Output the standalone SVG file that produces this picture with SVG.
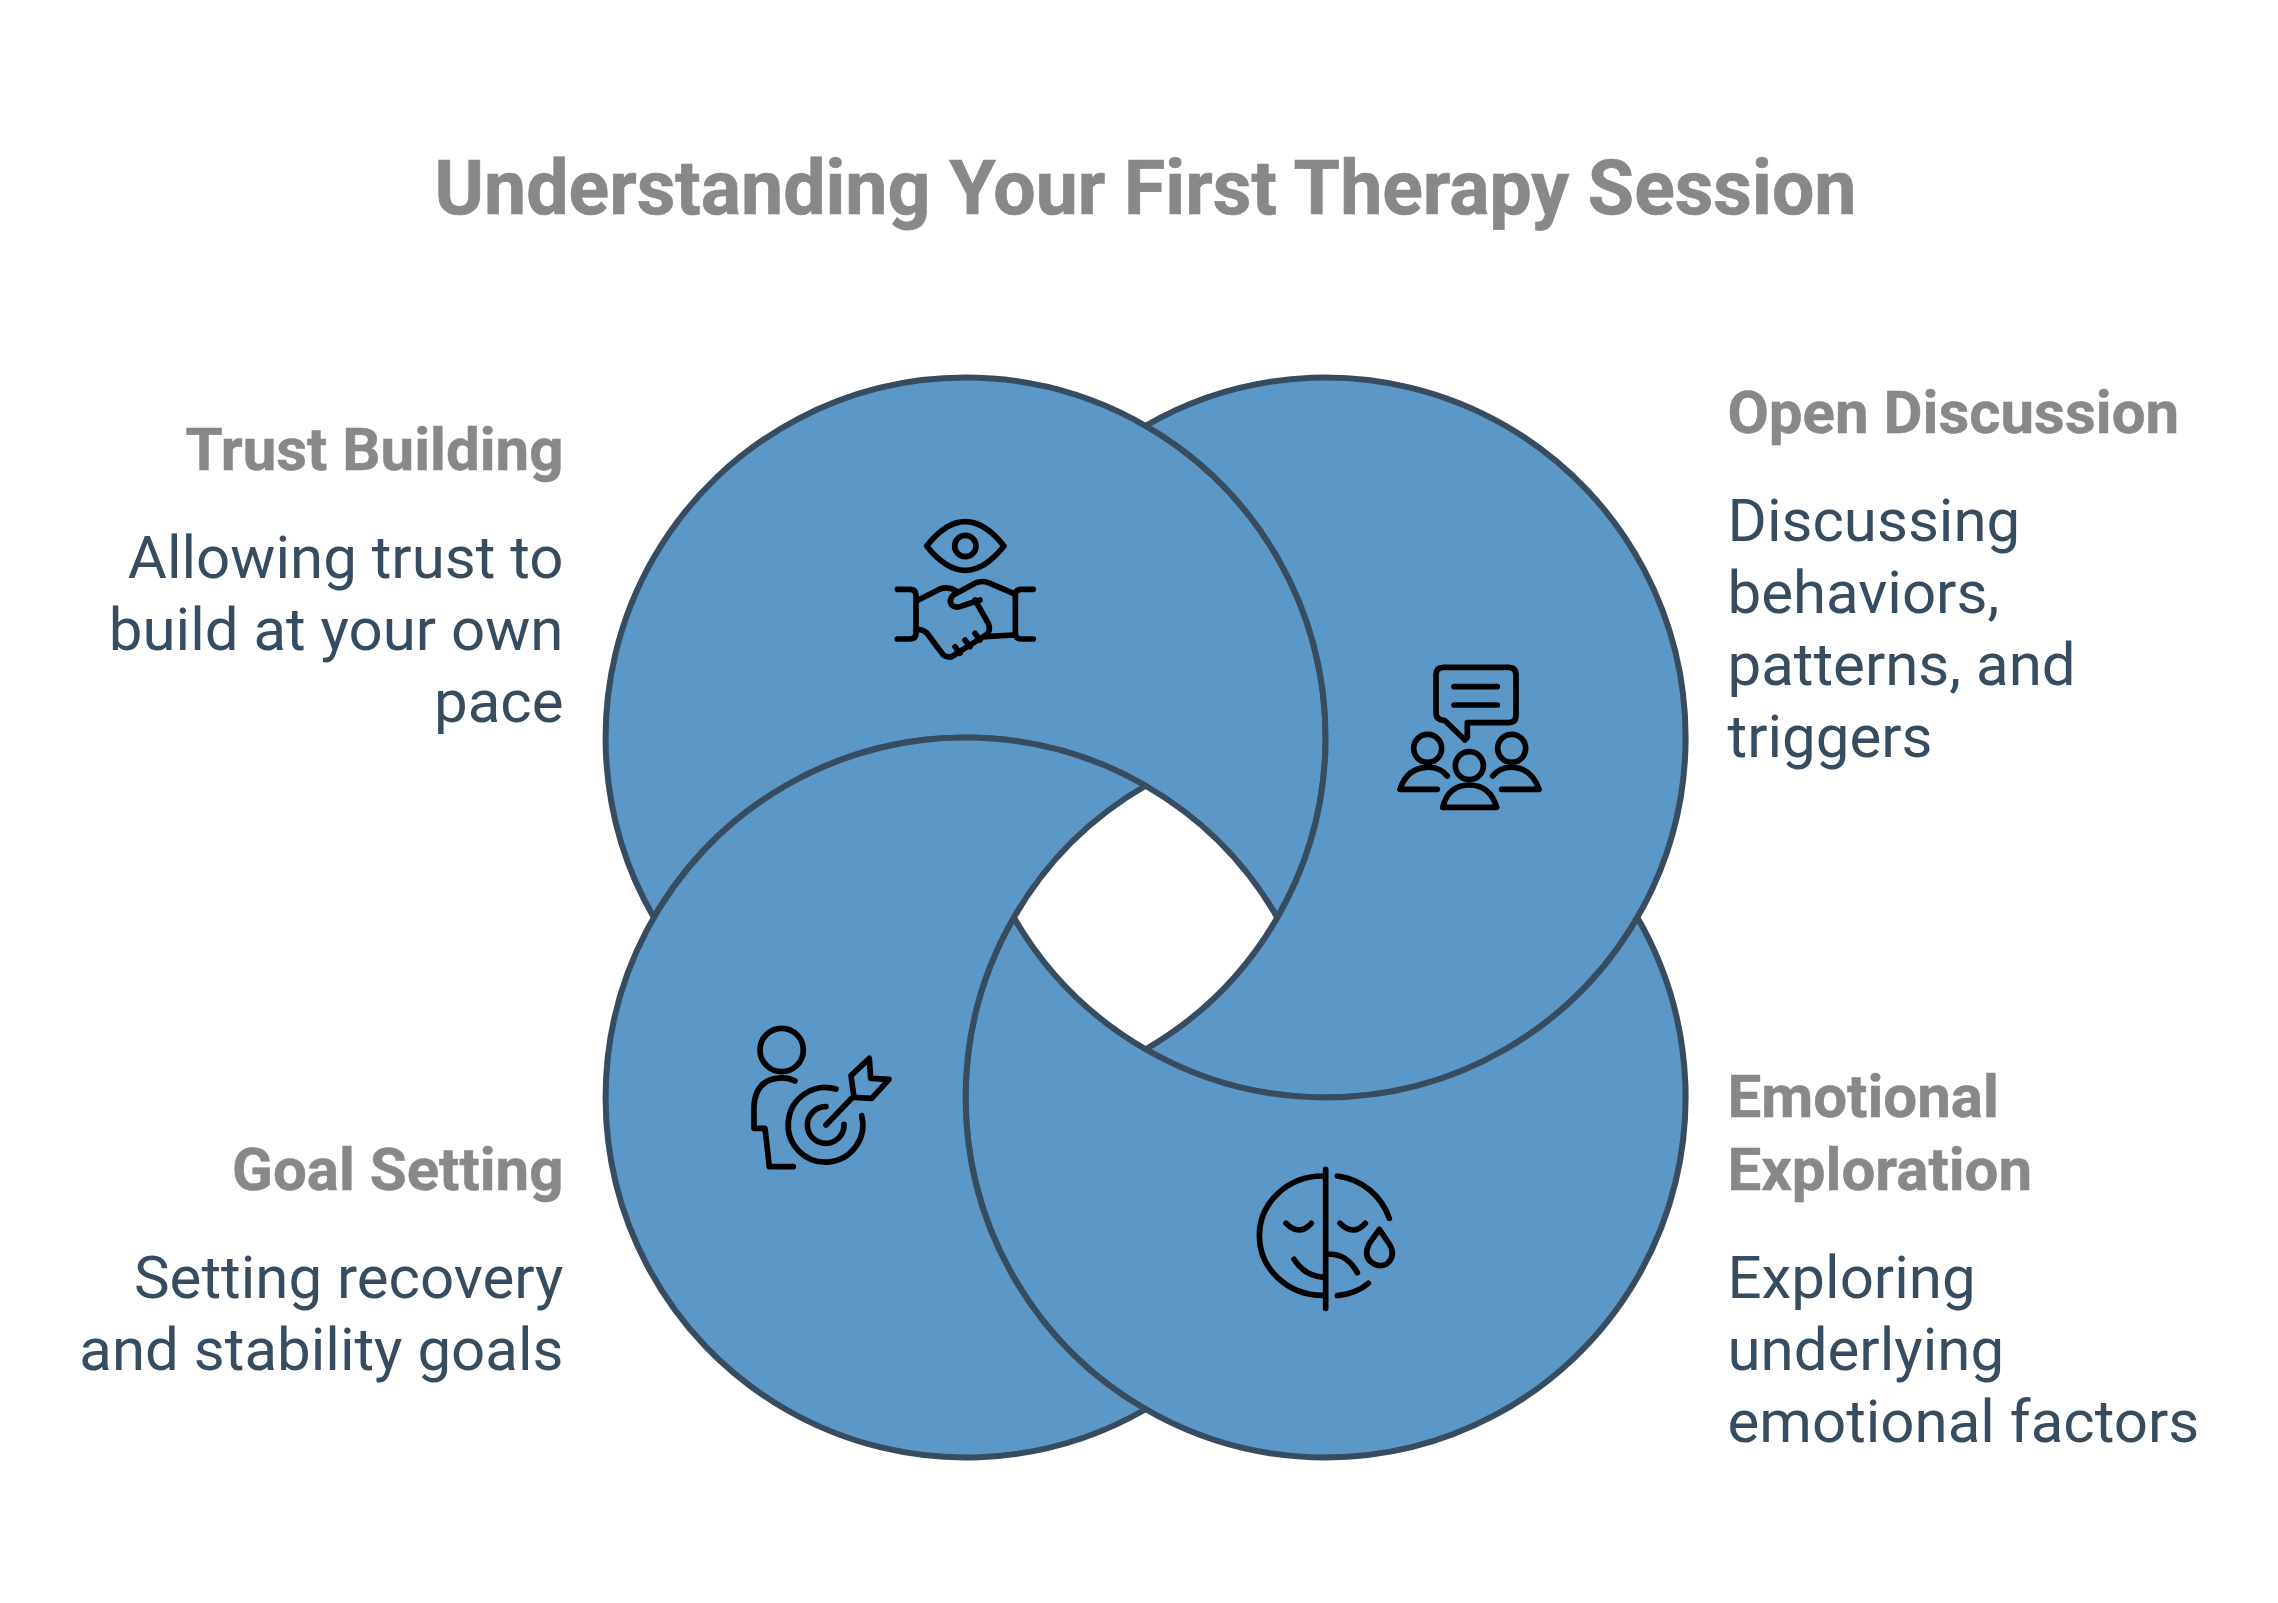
<svg xmlns="http://www.w3.org/2000/svg" width="2278" height="1603" viewBox="0 0 2278 1603">
<style>
.ring{fill:#5b97c7;stroke:#384c5f;stroke-width:6;stroke-linejoin:round}
.icon{fill:none;stroke:#000;stroke-width:17;stroke-linecap:round;stroke-linejoin:round}
text{font-family:Roboto,"Liberation Sans",sans-serif}
.title{font-size:75.2px;font-weight:700;fill:#888;stroke:#888;stroke-width:.7;text-anchor:middle}
.head{font-size:60px;font-weight:700;fill:#888;stroke:#888;stroke-width:.5}
.body{font-size:60px;fill:#384c5f}
.l{text-anchor:end}
</style>
<rect width="2278" height="1603" fill="#fff"/>
<text class="title" x="1145.5" y="214">Understanding Your First Therapy Session</text>
<g id="connectors"/>
<g id="node-trust">
<path class="ring" transform="translate(.6,.5)" d="M653.23,917A360,360 0 1 1 1276.77,917A360,360 0 0 0 653.23,917Z"/>
<g class="icon" transform="translate(860,490) scale(.33333)">
<path d="M200,168Q316,22 432,168Q316,314 200,168Z"/><circle cx="316" cy="168" r="32"/>
<path d="M112,298H150Q168,298 168,316V428Q168,447 150,447H112M520,298H485Q466,298 466,316V428Q466,447 485,447H520"/>
<path d="M175,330L240,297Q265,287 292,305M345,280Q365,270 385,278L460,310M345,280L280,315Q265,330 275,345Q285,355 300,350L360,330M345,330L385,400Q395,425 375,437L290,490Q270,510 250,495L205,435Q195,420 175,418M285,470L300,490M315,450L330,470M345,430L360,450M375,440L460,435"/>
</g>
<text class="head l" x="563.5" y="470">Trust Building</text>
<text class="body l" x="563.5" y="578">Allowing trust to</text>
<text class="body l" x="563.5" y="650">build at your own</text>
<text class="body l" x="563.5" y="722">pace</text>
</g>
<g id="node-discussion">
<path class="ring" transform="translate(.6,.5)" d="M1145,425.23A360,360 0 1 1 1145,1048.77A360,360 0 0 0 1145,425.23Z"/>
<g class="icon" transform="translate(1390,650) scale(.33333)">
<path d="M160,52H355Q378,52 378,75V195Q378,218 355,218H232V262L225,270L165,212Q138,210 138,190V75Q138,52 160,52ZM192,110H322M192,165H322"/>
<circle cx="113" cy="295" r="42"/><path d="M172,378Q150,350 110,352Q50,355 30,418H142"/>
<circle cx="238" cy="347" r="42"/><path d="M158,472Q175,405 238,405Q300,405 320,472Z"/>
<circle cx="365" cy="295" r="42"/><path d="M308,378Q330,350 370,352Q425,355 447,418H335"/>
</g>
<text class="head" x="1727.5" y="433">Open Discussion</text>
<text class="body" x="1727.5" y="541">Discussing</text>
<text class="body" x="1727.5" y="613">behaviors,</text>
<text class="body" x="1727.5" y="685">patterns, and</text>
<text class="body" x="1727.5" y="757">triggers</text>
</g>
<g id="node-emotional">
<path class="ring" transform="translate(.6,.5)" d="M1636.77,917A360,360 0 1 1 1013.23,917A360,360 0 0 0 1636.77,917Z"/>
<g class="icon" transform="translate(1250,1160) scale(.33333)">
<path d="M227,28V445M218,48A190,179 0 0 0 218,406M262,48A190,190 0 0 1 418,175M262,407Q320,400 355,370M108,190Q148,230 184,190M270,190Q310,230 346,190M132,298Q165,350 225,352M235,283Q290,280 322,338M388,208L420,255Q438,290 410,312Q385,325 362,305Q340,285 358,250Z"/>
</g>
<text class="head" x="1727.5" y="1117">Emotional</text>
<text class="head" x="1727.5" y="1190">Exploration</text>
<text class="body" x="1727.5" y="1298">Exploring</text>
<text class="body" x="1727.5" y="1369.5">underlying</text>
<text class="body" x="1727.5" y="1441.5">emotional factors</text>
</g>
<g id="node-goal">
<path class="ring" transform="translate(.6,.5)" d="M1145,1408.77A360,360 0 1 1 1145,785.23A360,360 0 0 0 1145,1408.77Z"/>
<g class="icon" transform="translate(740,1010) scale(.33333)">
<circle cx="125" cy="120" r="65"/>
<path d="M165,213Q140,200 110,205Q45,215 42,290V355H75L88,470H160"/>
<path d="M288,237A112,112 0 1 0 365,317M258,290A55,55 0 1 0 312,343M258,345L335,265"/>
<path d="M333,197L388,145L392,205L447,208L395,265L342,262Z"/>
</g>
<text class="head l" x="563.5" y="1190">Goal Setting</text>
<text class="body l" x="563.5" y="1298">Setting recovery</text>
<text class="body l" x="563.5" y="1369.5">and stability goals</text>
</g>
</svg>
